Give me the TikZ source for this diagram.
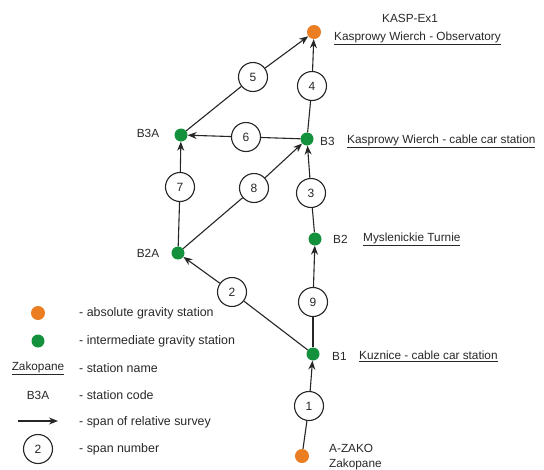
\documentclass[tikz,border=0pt]{standalone}
\usepackage{fontspec}
\setmainfont{Liberation Sans}
\usetikzlibrary{arrows.meta}
\definecolor{absorange}{RGB}{235,125,35}
\definecolor{intgreen}{RGB}{20,145,60}
\definecolor{txt}{RGB}{40,40,40}
\tikzset{
  absst/.style={circle,fill=absorange,inner sep=0pt,minimum size=14pt},
  intst/.style={circle,fill=intgreen,inner sep=0pt,minimum size=13pt},
  span/.style={circle,draw=black!85,line width=1.1pt,fill=white,inner sep=0pt,minimum size=29pt,font=\fontsize{12}{14}\selectfont,text=txt},
  lbl/.style={anchor=west,inner sep=0pt,font=\fontsize{11.8}{14}\selectfont,text=txt},
  leglbl/.style={anchor=west,inner sep=0pt,font=\fontsize{12.4}{14}\selectfont,text=txt},
  clbl/.style={inner sep=0pt,font=\fontsize{11.8}{14}\selectfont,text=txt},
  conn/.style={draw=black!85,line width=1.1pt},
  arr/.style={conn,-{Stealth[length=9pt,width=7pt]}}
}
\newcommand{\ul}[1]{\underline{#1}}
\begin{document}
\begin{tikzpicture}[x=1pt,y=-1pt]
\useasboundingbox[fill=white] (0,0) rectangle (544,469);
% stations
\node[absst] (kasp) at (314,32) {};
\node[intst] (b3) at (307,139) {};
\node[intst] (b3a) at (181,135) {};
\node[intst] (b2a) at (178,253) {};
\node[intst] (b2) at (315,239) {};
\node[intst] (b1) at (313,354) {};
\node[absst] (zako) at (302,456) {};
% span circles
\node[span] (s5) at (253,77) {5};
\node[span] (s4) at (312,86) {4};
\node[span] (s6) at (246,137) {6};
\node[span] (s7) at (180,187) {7};
\node[span] (s8) at (254,188) {8};
\node[span] (s3) at (311,193) {3};
\node[span] (s2) at (232,292) {2};
\node[span] (s9) at (313,302) {9};
\node[span] (s1) at (309,406) {1};
% connectors
\draw[conn] (zako) -- (s1); \draw[arr] (s1) -- (b1);
\draw[conn] (b1) -- (s9); \draw[arr] (s9) -- (b2);
\draw[conn] (b2) -- (s3); \draw[arr] (s3) -- (b3);
\draw[conn] (b3) -- (s4); \draw[arr] (s4) -- (kasp);
\draw[conn] (b1) -- (s2); \draw[arr] (s2) -- (b2a);
\draw[conn] (b2a) -- (s7); \draw[arr] (s7) -- (b3a);
\draw[conn] (b2a) -- (s8); \draw[arr] (s8) -- (b3);
\draw[conn] (b3) -- (s6); \draw[arr] (s6) -- (b3a);
\draw[conn] (b3a) -- (s5); \draw[arr] (s5) -- (kasp);
% labels
\node[lbl] (lkaspc) at (382,18) {KASP-Ex1};
\node[lbl] (lkaspn) at (334,38) {\ul{Kasprowy Wierch - Observatory}};
\node[lbl] (lb3c) at (320,141) {B3};
\node[lbl] (lb3n) at (347,141) {\ul{Kasprowy Wierch - cable car station}};
\node[clbl] (lb3ac) at (148,133) {B3A};
\node[clbl] (lb2ac) at (148,253) {B2A};
\node[lbl] (lb2c) at (333,239) {B2};
\node[lbl] (lb2n) at (363,239) {\ul{Myslenickie Turnie}};
\node[lbl] (lb1c) at (332,356) {B1};
\node[lbl] (lb1n) at (359,356) {\ul{Kuznice - cable car station}};
\node[lbl] (lzc) at (329,448) {A-ZAKO};
\node[lbl] (lzn) at (329,464) {Zakopane};
% legend
\node[absst] (leg1) at (38,313) {};
\node[leglbl] (leg1t) at (79,313) {- absolute gravity station};
\node[intst] (leg2) at (38,341) {};
\node[leglbl] (leg2t) at (79,341) {- intermediate gravity station};
\node[clbl] (leg3) at (38,368) {\ul{Zakopane}};
\node[leglbl] (leg3t) at (79,368) {- station name};
\node[clbl] (leg4) at (38,395) {B3A};
\node[leglbl] (leg4t) at (79,395) {- station code};
\coordinate (leg5a) at (18,421);
\coordinate (leg5b) at (58,421);
\draw[arr] (leg5a) -- (leg5b);
\node[leglbl] (leg5t) at (79,422) {- span of relative survey};
\node[span] (leg6) at (38,449) {2};
\node[leglbl] (leg6t) at (79,449) {- span number};
\end{tikzpicture}
\end{document}
